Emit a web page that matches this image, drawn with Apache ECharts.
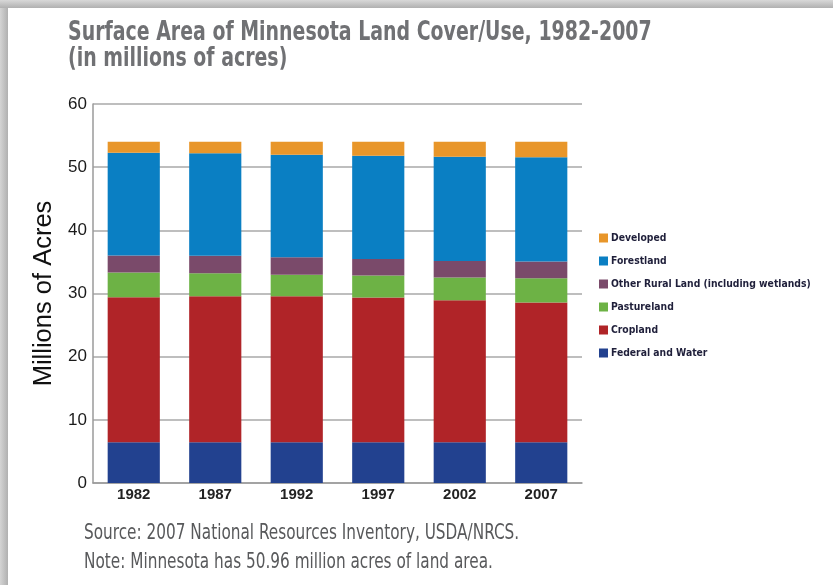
<!DOCTYPE html>
<html>
<head>
<meta charset="utf-8">
<script src="https://cdn.jsdelivr.net/npm/echarts@6/dist/echarts.min.js"></script>
<style>
  html, body { margin: 0; padding: 0; background: #ffffff; }
  #chart { width: 833px; height: 585px; }
</style>
</head>
<body>
<div id="chart"></div>
<script>
// Survey years
var years = ['1982', '1987', '1992', '1997', '2002', '2007'];

// Land cover / use, millions of acres (stacked bottom to top)
var federalWater = [6.44, 6.44, 6.44, 6.44, 6.44, 6.44];
var cropland     = [22.98, 23.14, 23.14, 22.92, 22.50, 22.13];
var pastureland  = [3.89, 3.62, 3.37, 3.48, 3.58, 3.85];
var otherRural   = [2.69, 2.77, 2.80, 2.64, 2.64, 2.63];
var forestland   = [16.29, 16.23, 16.23, 16.34, 16.50, 16.52];
var developed    = [1.74, 1.83, 2.05, 2.21, 2.37, 2.46];

// Value axis ticks
var yTicks = [0, 10, 20, 30, 40, 50, 60];

var titleLines = ['Surface Area of Minnesota Land Cover/Use, 1982-2007', '(in millions of acres)'];
var noteLines = ['Source: 2007 National Resources Inventory, USDA/NRCS.', 'Note: Minnesota has 50.96 million acres of land area.'];

var chart = echarts.init(document.getElementById('chart'), null, { renderer: 'canvas' });

var narrow = "'Liberation Sans Narrow', 'DejaVu Sans Condensed', sans-serif";
var plain = "'Liberation Sans', Arial, sans-serif";

function bar(name, data, color) {
  return {
    name: name,
    type: 'bar',
    stack: 'land',
    data: data,
    barCategoryGap: '36%',
    itemStyle: { color: color },
    emphasis: { disabled: true }
  };
}

// condensed heading / note text, squeezed horizontally
function squeezed(text, x, y, size, weight, color) {
  return {
    type: 'text',
    x: x,
    y: y,
    scaleX: 0.81,
    silent: true,
    style: {
      text: text,
      font: weight + ' ' + size + 'px ' + narrow,
      fill: color,
      verticalAlign: 'middle'
    }
  };
}

chart.setOption({
  animation: false,
  backgroundColor: '#ffffff',
  legend: {
    orient: 'vertical',
    left: 599,
    top: 233,
    padding: 0,
    itemWidth: 9,
    itemHeight: 9,
    itemGap: 13,
    icon: 'rect',
    data: ['Developed', 'Forestland', 'Other Rural Land (including wetlands)', 'Pastureland', 'Cropland', 'Federal and Water'],
    textStyle: {
      fontFamily: narrow,
      fontSize: 10.3,
      fontWeight: 'bold',
      color: '#1f1f3a',
      padding: [0, 0, 0, -2]
    }
  },
  grid: { left: 93, right: 251, top: 104, bottom: 102, containLabel: false },
  xAxis: {
    type: 'category',
    data: years,
    axisTick: { show: false },
    axisLine: { lineStyle: { color: '#9a9a9a', width: 1.5 } },
    axisLabel: {
      margin: 4,
      fontFamily: plain,
      fontSize: 15,
      fontWeight: 'bold',
      color: '#222'
    }
  },
  yAxis: {
    type: 'value',
    min: yTicks[0],
    max: yTicks[yTicks.length - 1],
    interval: 10,
    name: 'Millions of Acres',
    nameLocation: 'middle',
    nameGap: 31,
    nameTextStyle: { fontFamily: plain, fontSize: 25.5, color: '#111' },
    axisLine: { show: true, lineStyle: { color: '#9a9a9a', width: 1.5 } },
    axisTick: { show: false },
    axisLabel: { margin: 6, fontFamily: plain, fontSize: 17, color: '#1a1a1a' },
    splitLine: { lineStyle: { color: '#a8a8a8', width: 1.5 } }
  },
  series: [
    bar('Federal and Water', federalWater, '#22418f'),
    bar('Cropland', cropland, '#b02428'),
    bar('Pastureland', pastureland, '#6db245'),
    bar('Other Rural Land (including wetlands)', otherRural, '#7a4a6a'),
    bar('Forestland', forestland, '#0a7fc3'),
    bar('Developed', developed, '#e8962a')
  ],
  graphic: [
    {
      type: 'rect',
      left: 0, top: 0,
      shape: { width: 8, height: 585 },
      style: {
        fill: new echarts.graphic.LinearGradient(0, 0, 1, 0, [
          { offset: 0, color: '#d4d4d4' },
          { offset: 1, color: '#b0b0b0' }
        ])
      },
      silent: true
    },
    {
      type: 'rect',
      left: 0, top: 0,
      shape: { width: 833, height: 8 },
      style: {
        fill: new echarts.graphic.LinearGradient(0, 0, 0, 1, [
          { offset: 0, color: '#d8d8d8' },
          { offset: 1, color: '#b0b0b0' }
        ])
      },
      silent: true
    },
    squeezed(titleLines[0], 68, 33, 26, 'bold', '#707174'),
    squeezed(titleLines[1], 68, 59, 26, 'bold', '#707174'),
    squeezed(noteLines[0], 84, 534, 21, 'normal', '#58595b'),
    squeezed(noteLines[1], 84, 563, 21, 'normal', '#58595b')
  ]
});
</script>
</body>
</html>
